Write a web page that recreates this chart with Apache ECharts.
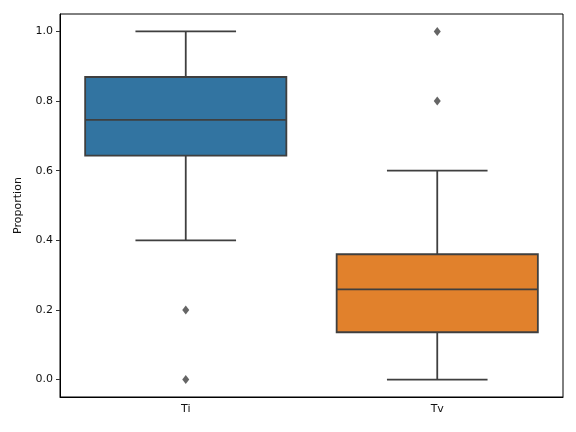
<!DOCTYPE html>
<html>
<head>
<meta charset="utf-8">
<script src="https://cdn.jsdelivr.net/npm/echarts@6/dist/echarts.min.js"></script>
<style>html,body{margin:0;padding:0;background:#fff;}#c{width:576px;height:432px;}</style>
</head>
<body>
<div id="c"></div>
<script>
const categories = ['Ti', 'Tv'];
const lowWhisker = [0.4, 0.0];
const q1 = [0.643, 0.136];
const median = [0.746, 0.259];
const q3 = [0.869, 0.36];
const highWhisker = [1.0, 0.6];
const outliersTi = [0.2, 0.0];
const outliersTv = [0.8, 1.0];
const yTicks = [0, 0.2, 0.4, 0.6, 0.8, 1.0];

const boxColors = ['#3274a1', '#e1812c'];
const edge = '#3f3f3f';

const boxData = categories.map((c, i) => [i, lowWhisker[i], q1[i], median[i], q3[i], highWhisker[i]]);
const outlierData = [];
outliersTi.forEach(v => outlierData.push([0, v]));
outliersTv.forEach(v => outlierData.push([1, v]));

const chart = echarts.init(document.getElementById('c'), null, {renderer: 'canvas'});
chart.setOption({
  animation: false,
  backgroundColor: '#fff',
  grid: {left: 60, right: 13, top: 14, bottom: 35, show: true, borderColor: '#000', borderWidth: 1, backgroundColor: 'transparent'},
  xAxis: {
    type: 'category',
    data: categories,
    boundaryGap: true,
    axisLine: {onZero: false, lineStyle: {color: '#000', width: 1}},
    axisTick: {alignWithLabel: true, length: 4, lineStyle: {color: '#333'}},
    axisLabel: {color: '#111', fontSize: 11, fontFamily: 'DejaVu Sans', margin: 7},
    splitLine: {show: false}
  },
  yAxis: {
    type: 'value',
    min: -0.05,
    max: 1.05,
    name: 'Proportion',
    nameLocation: 'middle',
    nameRotate: 90,
    nameGap: 36,
    nameTextStyle: {color: '#111', fontSize: 11, fontFamily: 'DejaVu Sans'},
    axisLine: {show: true, onZero: false, lineStyle: {color: '#000', width: 1}},
    axisTick: {show: true, length: 4, customValues: yTicks, lineStyle: {color: '#333'}},
    axisLabel: {color: '#111', fontSize: 11, fontFamily: 'DejaVu Sans', margin: 7, customValues: yTicks,
      formatter: v => v.toFixed(1)},
    splitLine: {show: false}
  },
  series: [
    {
      type: 'custom',
      data: boxData,
      encode: {x: 0, y: [1, 2, 3, 4, 5]},
      renderItem: function (params, api) {
        const i = api.value(0);
        const lo = api.coord([i, api.value(1)]);
        const b1 = api.coord([i, api.value(2)]);
        const md = api.coord([i, api.value(3)]);
        const b3 = api.coord([i, api.value(4)]);
        const hi = api.coord([i, api.value(5)]);
        const band = api.size([1, 0])[0];
        const bw = band * 0.8;
        const cw = bw / 2;
        const x = lo[0];
        const ls = {stroke: edge, lineWidth: 1.8, fill: null};
        return {
          type: 'group',
          children: [
            {type: 'line', shape: {x1: x, y1: b1[1], x2: x, y2: lo[1]}, style: ls},
            {type: 'line', shape: {x1: x, y1: b3[1], x2: x, y2: hi[1]}, style: ls},
            {type: 'line', shape: {x1: x - cw / 2, y1: lo[1], x2: x + cw / 2, y2: lo[1]}, style: ls},
            {type: 'line', shape: {x1: x - cw / 2, y1: hi[1], x2: x + cw / 2, y2: hi[1]}, style: ls},
            {type: 'rect', shape: {x: x - bw / 2, y: b3[1], width: bw, height: b1[1] - b3[1]},
              style: {fill: boxColors[i], stroke: edge, lineWidth: 1.8}},
            {type: 'line', shape: {x1: x - bw / 2, y1: md[1], x2: x + bw / 2, y2: md[1]}, style: ls}
          ]
        };
      },
      z: 2
    },
    {
      type: 'scatter',
      data: outlierData,
      symbol: 'diamond',
      symbolSize: [7, 9],
      itemStyle: {color: edge},
      z: 3
    }
  ]
});
</script>
</body>
</html>
